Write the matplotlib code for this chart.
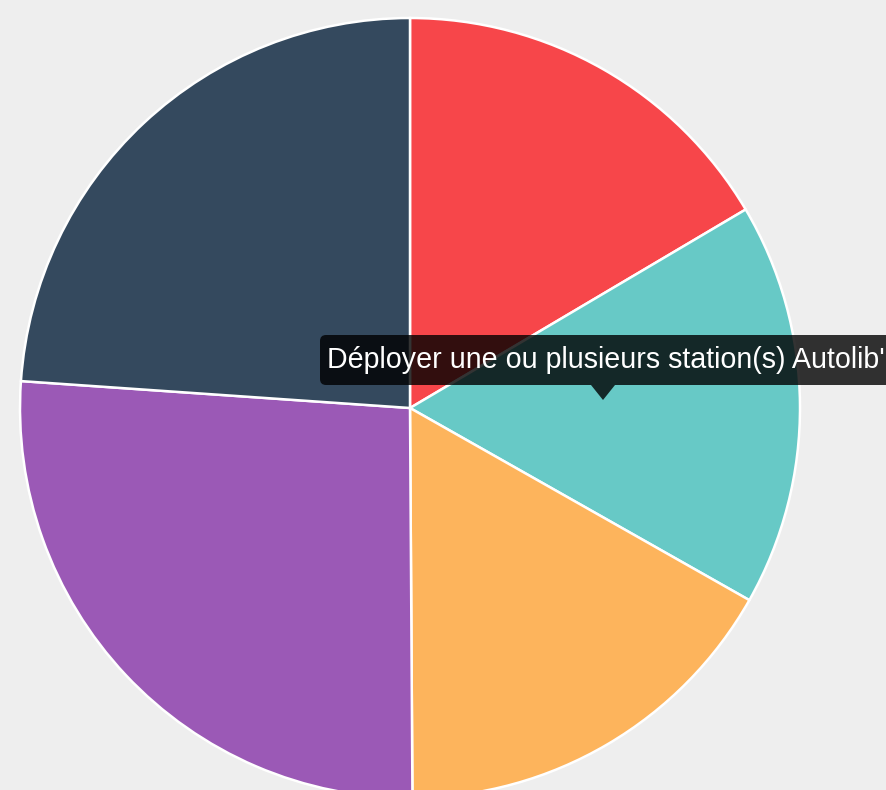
import numpy as np
import matplotlib
matplotlib.use("Agg")
from matplotlib import pyplot as plt
from matplotlib.patches import FancyBboxPatch, Polygon

# slice shares, clockwise from 12 o'clock
labels = ["Rouge", "Déployer une ou plusieurs station(s) Autolib'", "Orange", "Violet", "Bleu nuit"]
values = [16.5, 16.7, 16.7, 26.2, 23.9]
colors = ["#F7464A", "#67C9C6", "#FDB45C", "#9B59B6", "#34495E"]
tooltip_text = labels[1]

W, H = 887, 790
fig = plt.figure(figsize=(W / 100, H / 100), dpi=100)
fig.patch.set_facecolor("#EEEEEE")
ax = fig.add_axes([0, 0, 1, 1])

cx, cy, r = 410, H - 408, 390
ax.pie(values, colors=colors, startangle=90, counterclock=False,
       center=(cx, cy), radius=r, frame=True,
       wedgeprops=dict(edgecolor="white", linewidth=1.8))
ax.set_xlim(0, W)
ax.set_ylim(0, H)
ax.set_aspect("equal")
ax.axis("off")

# tooltip
box = FancyBboxPatch((320, H - 385), 600, 50, boxstyle="round,pad=0,rounding_size=6",
                     facecolor="black", alpha=0.8, edgecolor="none", zorder=5)
ax.add_patch(box)
tri = Polygon([(591, H - 385), (615, H - 385), (603, H - 400)], closed=True,
              facecolor="black", alpha=0.8, edgecolor="none", zorder=5)
ax.add_patch(tri)
ax.text(327, H - 360, tooltip_text, color="white", fontsize=20.6,
        family=["Liberation Sans", "DejaVu Sans"], va="center", ha="left", zorder=6)

fig.savefig("out.png", dpi=100, facecolor=fig.get_facecolor())
